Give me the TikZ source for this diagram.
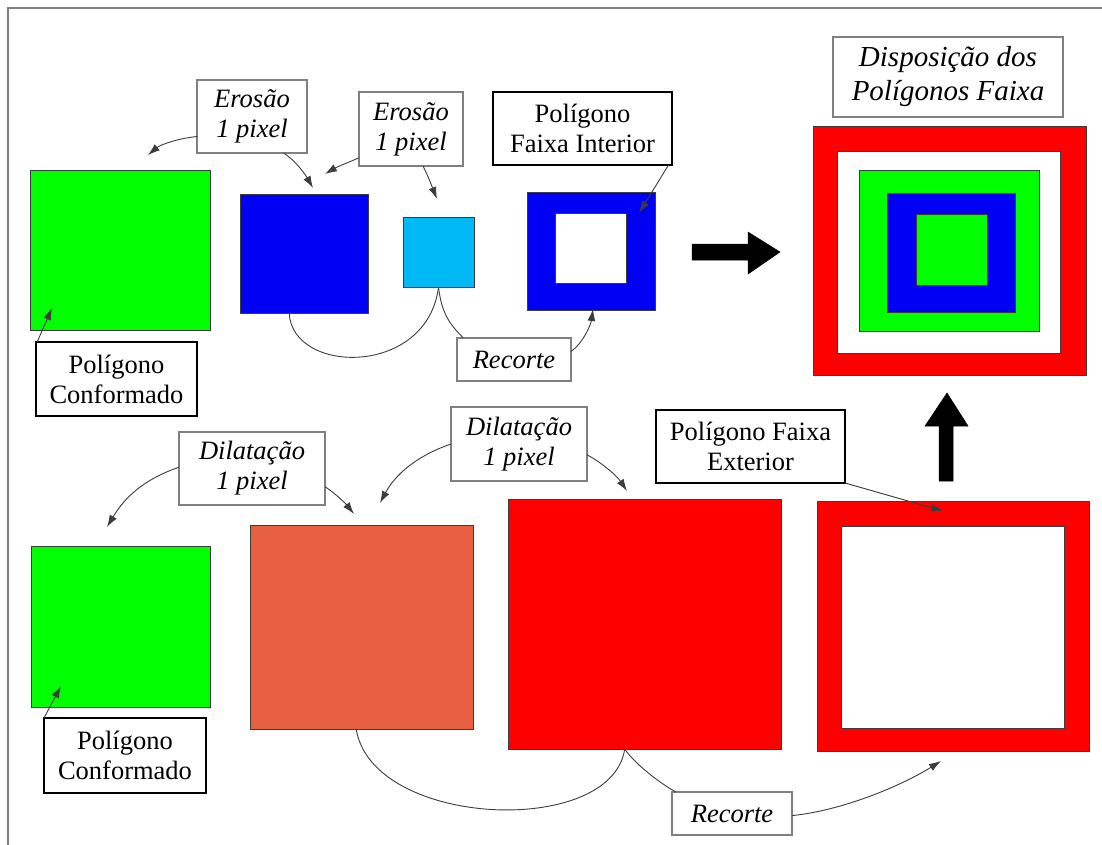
\documentclass[tikz,border=0pt]{standalone}
\usepackage{fontspec}
\setmainfont{Liberation Serif}
\usetikzlibrary{arrows.meta,calc}

\definecolor{pgreen}{RGB}{0,255,0}
\definecolor{pblue}{RGB}{0,0,245}
\definecolor{plight}{RGB}{0,185,245}
\definecolor{porange}{RGB}{232,96,66}
\definecolor{pred}{RGB}{255,0,0}
\definecolor{edge}{RGB}{60,60,60}

\newcommand\labsize{\fontsize{26.5}{30}\selectfont}
\newcommand\titlesize{\fontsize{29}{34}\selectfont}

\begin{document}
\begin{tikzpicture}[x=1pt,y=-1pt,
  sq/.style={draw=edge, line width=0.8pt, inner sep=0pt, outer sep=0pt},
  labi/.style={draw=gray, line width=1.3pt, fill=white, align=center,
               inner sep=0pt, outer sep=0pt, font=\labsize\itshape},
  labk/.style={draw=black, line width=2pt, fill=white, align=center,
               inner sep=0pt, outer sep=0pt, font=\labsize},
  con/.style={draw=edge, line width=0.9pt, -{Latex[length=12pt,width=8pt]}},
  link/.style={draw=edge, line width=0.9pt},
  frame/.style={draw=gray, line width=2pt},
  bigarrow/.style={fill=black, draw=black, line width=0.5pt}]

\useasboundingbox (0,0) rectangle (1102,845);
\fill[white] (0,0) rectangle (1102,845);
\draw[frame] (8,845) -- (8,8) -- (1102,8);

% ---------- upper row: erosion ----------
\node[sq, fill=pgreen, minimum width=180pt, minimum height=160pt] (g1) at (120,250) {};
\node[sq, fill=pblue, minimum width=128pt, minimum height=119pt] (b1) at (304,253.5) {};
\node[sq, fill=plight, minimum width=71pt, minimum height=70pt] (lb1) at (438.5,252) {};
\node[sq, fill=pblue, minimum width=128pt, minimum height=118pt] (ringA) at (591,251) {};
\node[sq, fill=white, minimum width=71pt, minimum height=70pt] (ringAin) at (590.5,248) {};

\node[labk, minimum width=161pt, minimum height=74pt] (confA) at (116.5,379) {Polígono\\Conformado};
\node[labi, minimum width=110pt, minimum height=73pt] (eroA) at (252,116.5) {Erosão\\1 pixel};
\node[labi, minimum width=104pt, minimum height=74pt] (eroB) at (411,129) {Erosão\\1 pixel};
\node[labi, minimum width=114pt, minimum height=43pt] (recA) at (514,359.5) {Recorte};
\node[labk, minimum width=179pt, minimum height=73pt] (intLbl) at (582.5,128.5) {Polígono\\Faixa Interior};

\coordinate (tG1) at (52,308);
\coordinate (tEroA) at (148,155);
\coordinate (tB1) at (313,188);
\coordinate (tB1b) at (325,174);
\coordinate (tLb1) at (437,199);
\coordinate (tRingA) at (593,309);
\coordinate (tRingAin) at (639,213);

\draw[con] (confA.155) -- (tG1);
\draw[con] (eroA.200) .. controls ($(eroA.200)+(-20,2)$) and ($(tEroA)+(12,-10)$) .. (tEroA);
\draw[con] (eroA.311) .. controls ($(eroA.311)+(12,8)$) and ($(tB1)+(-8,-14)$) .. (tB1);
\draw[con] (eroB.209) .. controls ($(eroB.209)+(-12,5)$) and ($(tB1b)+(10,-6)$) .. (tB1b);
\draw[con] (eroB.288) .. controls ($(eroB.288)+(5,10)$) and ($(tLb1)+(-4,-10)$) .. (tLb1);
\draw[link] (b1.256) .. controls ($(b1.256)+(3,62)$) and ($(lb1.south)+(-11,90)$) .. (lb1.south);
\draw[link] (lb1.south) .. controls ($(lb1.south)+(3,25)$) and ($(recA.157)+(-15,-15)$) .. (recA.157);
\draw[con] (recA.8) .. controls ($(recA.8)+(12,-8)$) and ($(tRingA)+(-2,15)$) .. (tRingA);
\draw[con] (intLbl.337) -- (tRingAin);

% arrow to the nested result
\draw[bigarrow] (692,244) -- (748,244) -- (748,232) -- (780,252) -- (748,274) -- (748,260) -- (692,260) -- cycle;

% ---------- nested bands ----------
\node[labi, font=\titlesize\itshape, minimum width=230pt, minimum height=80pt] (disp) at (948,77) {Disposição dos\\Polígonos Faixa};
\node[sq, fill=pred, minimum width=273pt, minimum height=249pt] (rOut) at (949.5,250.5) {};
\node[sq, fill=white, minimum width=223pt, minimum height=202pt] (rWhite) at (948.5,252) {};
\node[sq, fill=pgreen, minimum width=180pt, minimum height=161pt] (rGreen) at (949,250.5) {};
\node[sq, fill=pblue, minimum width=128pt, minimum height=119pt] (rBlue) at (951,252.5) {};
\node[sq, fill=pgreen, minimum width=71pt, minimum height=71pt] (rCore) at (951.5,249.5) {};

\draw[bigarrow] (939,481) -- (939,426) -- (925,426) -- (947,393) -- (968,426) -- (953,426) -- (953,481) -- cycle;

% ---------- lower row: dilation ----------
\node[sq, fill=pgreen, minimum width=179pt, minimum height=161pt] (g2) at (120.5,626.5) {};
\node[sq, fill=porange, minimum width=223pt, minimum height=204pt] (orng) at (361.5,627) {};
\node[sq, fill=pred, minimum width=273pt, minimum height=250pt] (red1) at (644.5,624) {};
\node[sq, fill=pred, minimum width=272pt, minimum height=250pt] (ringB) at (953,626) {};
\node[sq, fill=white, minimum width=223pt, minimum height=202pt] (ringBin) at (952.5,627) {};

\node[labi, minimum width=146pt, minimum height=73pt] (dilA) at (252,468.5) {Dilatação\\1 pixel};
\node[labk, minimum width=162pt, minimum height=75pt] (confB) at (125,755.5) {Polígono\\Conformado};
\node[labi, minimum width=136pt, minimum height=74pt] (dilB) at (519,444) {Dilatação\\1 pixel};
\node[labk, minimum width=189pt, minimum height=73pt] (extLbl) at (750.5,446.5) {Polígono Faixa\\Exterior};
\node[labi, minimum width=120pt, minimum height=43pt] (recB) at (732,813.5) {Recorte};

\coordinate (tG2) at (61,686);
\coordinate (tDilA) at (107,527);
\coordinate (tOrng) at (354,514);
\coordinate (tOrngB) at (380,503);
\coordinate (tRed1) at (627,491);
\coordinate (tRingB) at (943,511);
\coordinate (tRingBb) at (941,761);

\draw[con] (confB.north west) -- (tG2);
\draw[con] (dilA.179) .. controls ($(dilA.179)+(-35,12)$) and ($(tDilA)+(18,-30)$) .. (tDilA);
\draw[con] (dilA.346) .. controls ($(dilA.346)+(12,8)$) and ($(tOrng)+(-8,-10)$) .. (tOrng);
\draw[con] (dilB.west) .. controls ($(dilB.west)+(-35,12)$) and ($(tOrngB)+(15,-28)$) .. (tOrngB);
\draw[con] (dilB.351) .. controls ($(dilB.351)+(15,8)$) and ($(tRed1)+(-10,-15)$) .. (tRed1);
\draw[con] (extLbl.south east) -- (tRingB);
\draw[link] (orng.267) .. controls ($(orng.267)+(16,99)$) and ($(red1.261)+(-13,89)$) .. (red1.261);
\draw[link] (red1.261) .. controls ($(red1.261)+(10,15)$) and ($(recB.159)+(-15,-8)$) .. (recB.159);
\draw[con] (recB.358) .. controls ($(recB.358)+(50,-5)$) and ($(tRingBb)+(-40,25)$) .. (tRingBb);

\end{tikzpicture}
\end{document}
